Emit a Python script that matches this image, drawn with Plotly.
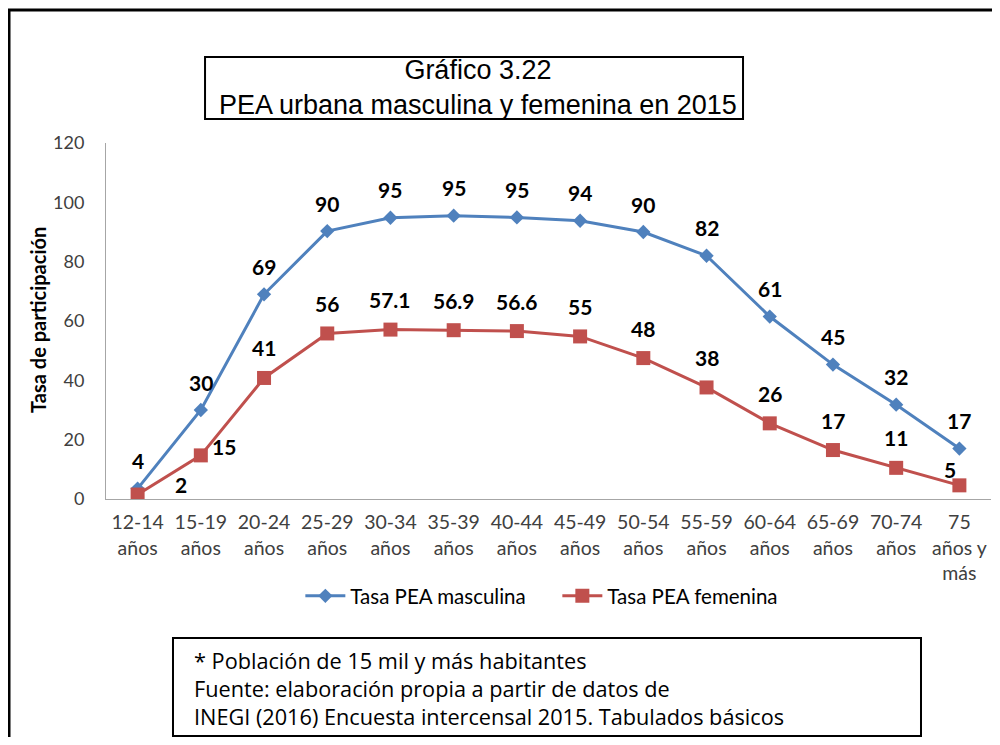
import plotly.graph_objects as go

ages = [
    "12-14<br>años", "15-19<br>años", "20-24<br>años", "25-29<br>años",
    "30-34<br>años", "35-39<br>años", "40-44<br>años", "45-49<br>años",
    "50-54<br>años", "55-59<br>años", "60-64<br>años", "65-69<br>años",
    "70-74<br>años", "75<br>años y<br>más",
]
tasa_masc = [3.5, 30, 69, 90.3, 94.8, 95.5, 94.9, 93.8, 90, 82, 61.5, 45.3, 31.8, 17]
tasa_fem = [1.5, 14.7, 40.8, 55.8, 57.1, 56.9, 56.6, 54.8, 47.5, 37.6, 25.5, 16.5, 10.5, 4.6]
masc_labels = ["4", "30", "69", "90", "95", "95", "95", "94", "90", "82", "61", "45", "32", "17"]
fem_labels = ["2", "15", "41", "56", "57.1", "56.9", "56.6", "55", "48", "38", "26", "17", "11", "5"]

BLUE = "#4F81BD"
RED = "#C0504D"
BODY = "Lato, 'Open Sans', sans-serif"

fig = go.Figure()
fig.add_trace(go.Scatter(
    x=ages, y=tasa_masc, name="Tasa PEA masculina", mode="lines+markers",
    line=dict(color=BLUE, width=3),
    marker=dict(symbol="diamond", size=11, color=BLUE),
))
fig.add_trace(go.Scatter(
    x=ages, y=tasa_fem, name="Tasa PEA femenina", mode="lines+markers",
    line=dict(color=RED, width=3),
    marker=dict(symbol="square", size=14, color=RED),
))

# data labels, mostly centred above the point; a few nudged like the original
label_font = dict(family=BODY, size=21, color="black", weight="bold")
notes = []
for a, v, t in zip(ages, tasa_masc, masc_labels):
    notes.append(dict(x=a, y=v, text=t, showarrow=False, yshift=28, font=label_font))
fem_shift = {0: (43, 10), 1: (23, 9), 13: (-9, 16)}
for i, (a, v, t) in enumerate(zip(ages, tasa_fem, fem_labels)):
    dx, dy = fem_shift.get(i, (0, 30))
    notes.append(dict(x=a, y=v, text=t, showarrow=False, xshift=dx, yshift=dy, font=label_font))

notes += [
    dict(xref="paper", yref="paper", x=0.4198, y=1.1545, xanchor="center", yanchor="middle",
         showarrow=False,
         text="Gráfico 3.22<br>PEA urbana masculina y femenina en 2015",
         font=dict(family="'Liberation Sans', Arial, sans-serif", size=27, color="black")),
    dict(xref="paper", yref="paper", x=-0.0768, y=0.503, xanchor="center", yanchor="middle",
         showarrow=False, textangle=-90,
         text="Tasa de participación",
         font=dict(family=BODY, size=20, color="black", weight="bold")),
    dict(xref="paper", yref="paper", x=0.0972, y=-0.5309, xanchor="left", yanchor="middle",
         align="left", showarrow=False,
         text=("* Población de 15 mil y más habitantes<br>"
               "Fuente: elaboración propia a partir de datos de<br>"
               "INEGI (2016) Encuesta intercensal 2015. Tabulados básicos"),
         font=dict(family="'Open Sans', sans-serif", size=21.7, color="black")),
]

# page body adds an 8px margin, so the figure is sized to fit inside the window
fig.update_layout(
    width=984, height=729,
    paper_bgcolor="white", plot_bgcolor="white",
    margin=dict(l=98, r=1, t=135, b=238),
    font=dict(family=BODY, color="#404040"),
    showlegend=True,
    legend=dict(orientation="h", x=0.510, xanchor="center", y=-0.2725, yanchor="middle",
                font=dict(family=BODY, size=20.5, color="black"), itemwidth=40,
                entrywidth=202, bgcolor="rgba(0,0,0,0)"),
    annotations=notes,
    shapes=[
        dict(type="rect", xref="paper", yref="paper", x0=-0.1096, x1=1.2, y0=-1.0, y1=1.3736,
             line=dict(color="black", width=3)),
        dict(type="rect", xref="paper", yref="paper", x0=0.1119, x1=0.7198, y0=1.0674, y1=1.2416,
             line=dict(color="black", width=2)),
        dict(type="rect", xref="paper", yref="paper", x0=0.0757, x1=0.9209, y0=-0.6657, y1=-0.3904,
             line=dict(color="black", width=2)),
    ],
)
fig.update_xaxes(range=[-0.5, 13.5], showline=True, linecolor="#A6A6A6", linewidth=1,
                 showgrid=False, ticks="", ticklabelstandoff=6,
                 tickfont=dict(family=BODY, size=19.5, color="#404040"), tickangle=0)
fig.update_yaxes(range=[0, 120], dtick=20, showline=True, linecolor="#A6A6A6", linewidth=1,
                 showgrid=False, zeroline=False, ticks="", ticklabelstandoff=17,
                 tickfont=dict(family=BODY, size=18, color="#404040"))

fig.write_html("out.html")
